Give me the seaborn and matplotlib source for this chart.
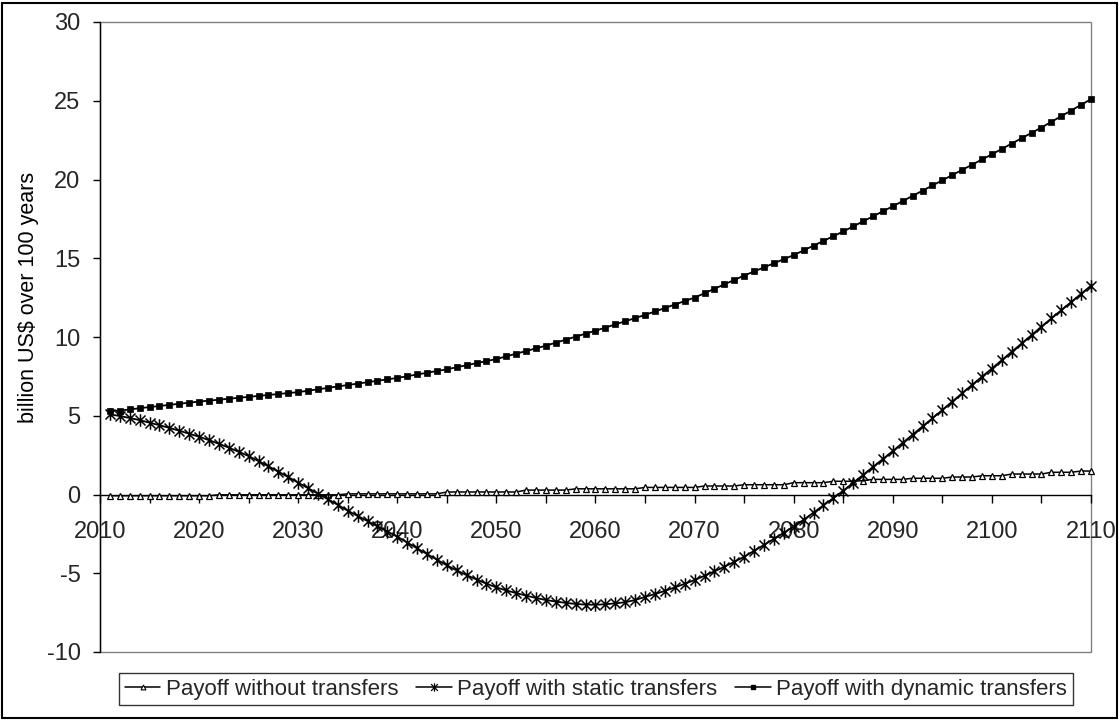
import numpy as np
import pandas as pd
import matplotlib
matplotlib.use("Agg")
import matplotlib.pyplot as plt
from matplotlib.lines import Line2D
from matplotlib.path import Path
from matplotlib.patches import Rectangle
from matplotlib.ticker import MultipleLocator, FuncFormatter
import seaborn as sns

# ---- data: yearly payoffs, billion US$ ----
years = list(range(2011, 2111))

payoff_without = (
    [-0.08] * 11          # 2011-2021
    + [-0.02] * 13        # 2022-2034
    + [0.04] * 10         # 2035-2044
    + [0.16] * 8          # 2045-2052
    + [0.28] * 5          # 2053-2057
    + [0.36] * 7          # 2058-2064
    + [0.45] * 6          # 2065-2070
    + [0.54] * 4          # 2071-2074
    + [0.62] * 5          # 2075-2079
    + [0.75] * 4          # 2080-2083
    + [0.84] * 3          # 2084-2086
    + [0.88] * 1          # 2087
    + [0.96] * 4          # 2088-2091
    + [1.03] * 4          # 2092-2095
    + [1.11] * 3          # 2096-2098
    + [1.19] * 3          # 2099-2101
    + [1.30] * 4          # 2102-2105
    + [1.41] * 3          # 2106-2108
    + [1.49] * 2          # 2109-2110
)

payoff_static = [
    5.09, 4.98, 4.86, 4.72, 4.56, 4.40, 4.23, 4.05, 3.86, 3.67,
    3.45, 3.22, 2.97, 2.71, 2.44, 2.12, 1.79, 1.45, 1.10, 0.75,
    0.40, 0.05, -0.30, -0.66, -1.03, -1.36, -1.69, -2.02, -2.35, -2.68,
    -3.05, -3.42, -3.78, -4.14, -4.50, -4.82, -5.12, -5.40, -5.66, -5.90,
    -6.09, -6.26, -6.42, -6.57, -6.70, -6.80, -6.88, -6.95, -6.99, -7.00,
    -6.97, -6.91, -6.84, -6.70, -6.50, -6.32, -6.12, -5.90, -5.67, -5.43,
    -5.16, -4.88, -4.59, -4.28, -3.95, -3.58, -3.20, -2.82, -2.43, -2.04,
    -1.60, -1.15, -0.69, -0.23, 0.24, 0.74, 1.24, 1.75, 2.25, 2.76,
    3.28, 3.80, 4.32, 4.84, 5.37, 5.90, 6.43, 6.96, 7.48, 8.00,
    8.53, 9.06, 9.59, 10.12, 10.66, 11.18, 11.70, 12.22, 12.74, 13.26,
]

payoff_dynamic = [
    5.30, 5.33, 5.40, 5.48, 5.55, 5.62, 5.69, 5.76, 5.83, 5.90,
    5.96, 6.02, 6.08, 6.14, 6.20, 6.26, 6.32, 6.38, 6.44, 6.50,
    6.59, 6.68, 6.77, 6.86, 6.95, 7.04, 7.13, 7.22, 7.31, 7.40,
    7.51, 7.62, 7.73, 7.84, 7.95, 8.08, 8.21, 8.34, 8.47, 8.60,
    8.77, 8.94, 9.11, 9.28, 9.45, 9.64, 9.83, 10.02, 10.21, 10.40,
    10.60, 10.80, 11.00, 11.20, 11.40, 11.62, 11.84, 12.06, 12.28, 12.50,
    12.78, 13.06, 13.34, 13.62, 13.90, 14.16, 14.42, 14.68, 14.94, 15.20,
    15.50, 15.80, 16.10, 16.40, 16.70, 17.02, 17.34, 17.66, 17.98, 18.30,
    18.63, 18.96, 19.29, 19.62, 19.95, 20.28, 20.61, 20.94, 21.27, 21.60,
    21.94, 22.28, 22.62, 22.96, 23.30, 23.66, 24.02, 24.38, 24.74, 25.10,
]

series_labels = [
    "Payoff without transfers",
    "Payoff with static transfers",
    "Payoff with dynamic transfers",
]
y_label = "billion US$ over 100 years"

# ---- style ----
sns.set_theme(style="white")
plt.rcParams["font.family"] = ["Liberation Sans", "DejaVu Sans"]
plt.rcParams["axes.unicode_minus"] = False

# asterisk marker: an X crossed by a vertical bar
star_marker = Path(
    [(-1, -1), (1, 1), (-1, 1), (1, -1), (0, -1.25), (0, 1.25)],
    [Path.MOVETO, Path.LINETO, Path.MOVETO, Path.LINETO, Path.MOVETO, Path.LINETO],
)

styles = [
    dict(marker="^", markersize=5, markerfacecolor="white",
         markeredgecolor="black", markeredgewidth=0.9, linewidth=1.1),
    dict(marker=star_marker, markersize=9, markerfacecolor="none",
         markeredgecolor="black", markeredgewidth=1.1, linewidth=1.3),
    dict(marker="s", markersize=4.3, markerfacecolor="black",
         markeredgecolor="black", markeredgewidth=0.5, linewidth=1.3),
]

fig = plt.figure(figsize=(11.2, 7.2), dpi=100)
fig.patch.set_facecolor("white")
ax = fig.add_axes([100 / 1120, 1 - 652 / 720, 991 / 1120, 630 / 720])

df = pd.DataFrame({
    "year": years * 3,
    "value": payoff_without + payoff_static + payoff_dynamic,
    "series": [series_labels[0]] * len(years)
    + [series_labels[1]] * len(years)
    + [series_labels[2]] * len(years),
})

for lab, st in zip(series_labels, styles):
    sub = df[df["series"] == lab]
    sns.lineplot(data=sub, x="year", y="value", color="black", ax=ax,
                 legend=False, clip_on=False, zorder=3, **st)

ax.set_xlim(2010, 2110)
ax.set_ylim(-10, 30)

# plot-area frame in gray, value axis in black
for side in ("top", "right"):
    ax.spines[side].set_visible(False)
ax.add_patch(Rectangle((0, 0), 1, 1, transform=ax.transAxes, fill=False,
                       edgecolor="#808080", linewidth=1.0, zorder=0.5,
                       clip_on=False))
ax.spines["left"].set_color("black")
ax.spines["left"].set_linewidth(1.0)
ax.spines["left"].set_zorder(2)
ax.spines["bottom"].set_position(("data", 0))
ax.spines["bottom"].set_color("black")
ax.spines["bottom"].set_linewidth(1.0)

ax.yaxis.set_major_locator(MultipleLocator(5))
ax.xaxis.set_major_locator(MultipleLocator(10))
ax.xaxis.set_minor_locator(MultipleLocator(5))
ax.xaxis.set_major_formatter(FuncFormatter(lambda v, p: f"{int(round(v))}"))

ax.tick_params(axis="y", which="major", direction="out", length=5, width=1,
               color="black", labelsize=17, pad=9, left=True)
ax.tick_params(axis="x", which="both", direction="out", length=6, width=1,
               color="black", bottom=True)
ax.tick_params(axis="x", which="major", labelsize=17, pad=13)

ax.set_xlabel("")
ax.set_ylabel(y_label, fontsize=15.5, color="black")
ax.yaxis.set_label_coords(-0.062, 0.563)
ax.grid(False)
ax.set_facecolor("white")

# legend along the bottom
handles = [
    Line2D([0], [0], color="black", linewidth=1.1, marker="^", markersize=3.5,
           markerfacecolor="white", markeredgecolor="black", markeredgewidth=0.8),
    Line2D([0], [0], color="black", linewidth=1.1, marker=star_marker,
           markersize=6, markerfacecolor="none", markeredgecolor="black",
           markeredgewidth=0.9),
    Line2D([0], [0], color="black", linewidth=1.1, marker="s", markersize=3,
           markerfacecolor="black", markeredgecolor="black"),
]
leg = fig.legend(handles, series_labels, loc="center", ncol=3,
                 bbox_to_anchor=(596 / 1120, 1 - 689 / 720),
                 frameon=True, fancybox=False, shadow=False,
                 prop={"size": 16},
                 handlelength=1.6, handletextpad=0.25,
                 columnspacing=0.8, borderpad=0.25, borderaxespad=0)
leg.get_frame().set_edgecolor("black")
leg.get_frame().set_linewidth(1.0)

# outer border of the chart
fig.add_artist(Rectangle((2 / 1120, 2 / 720), 1115 / 1120, 715 / 720,
                         transform=fig.transFigure, fill=False,
                         edgecolor="black", linewidth=1.5))

fig.savefig("out.png", dpi=100, facecolor="white")
